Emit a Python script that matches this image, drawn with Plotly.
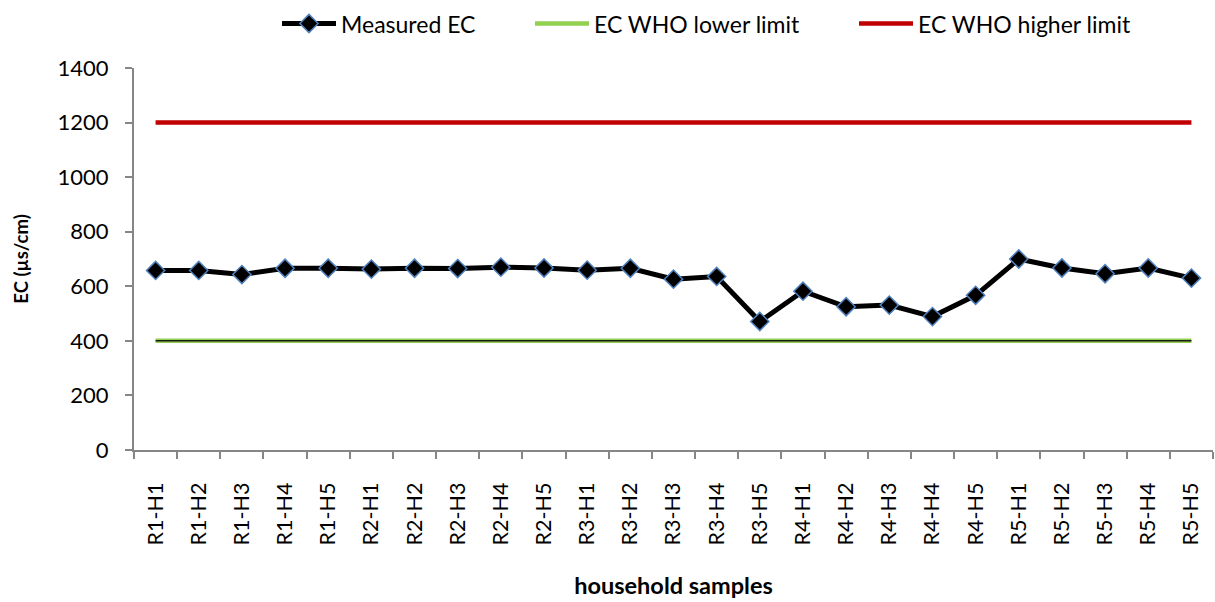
import plotly.graph_objects as go

# Household sample identifiers (route R, house H)
samples = [
    "R1-H1", "R1-H2", "R1-H3", "R1-H4", "R1-H5",
    "R2-H1", "R2-H2", "R2-H3", "R2-H4", "R2-H5",
    "R3-H1", "R3-H2", "R3-H3", "R3-H4", "R3-H5",
    "R4-H1", "R4-H2", "R4-H3", "R4-H4", "R4-H5",
    "R5-H1", "R5-H2", "R5-H3", "R5-H4", "R5-H5",
]

# Measured electrical conductivity (µs/cm)
measured_ec = [
    658, 658, 643, 666, 666,
    663, 666, 665, 670, 667,
    659, 666, 626, 636, 471,
    582, 525, 531, 489, 567,
    700, 667, 646, 667, 630,
]

# WHO guideline limits (µs/cm)
who_lower = [400] * len(samples)
who_higher = [1200] * len(samples)

y_ticks = [0, 200, 400, 600, 800, 1000, 1200, 1400]

FONT = "Lato"
AXIS_GREY = "#868686"

fig = go.Figure()

fig.add_trace(go.Scatter(
    x=samples, y=measured_ec, name="Measured EC", legend="legend",
    mode="lines+markers",
    line=dict(color="black", width=5),
    marker=dict(symbol="diamond", size=14, color="black",
                line=dict(color="#4F81BD", width=1.5)),
))
fig.add_trace(go.Scatter(
    x=samples, y=who_lower, name="EC WHO lower limit", legend="legend2",
    mode="lines", line=dict(color="#92D050", width=4.5),
))
fig.add_trace(go.Scatter(
    x=samples, y=who_lower, showlegend=False, hoverinfo="skip",
    mode="lines", line=dict(color="#1a1a1a", width=1.5),
))
fig.add_trace(go.Scatter(
    x=samples, y=who_higher, name="EC WHO higher limit", legend="legend3",
    mode="lines", line=dict(color="#C00000", width=4.5),
))

plot_l, plot_r, plot_t, plot_b = 134, 2, 63, 152
plot_w = 1215 - plot_l - plot_r
plot_h = 602 - plot_t - plot_b


def legend_at(px_left):
    return dict(
        orientation="h", x=(px_left - plot_l) / plot_w, xanchor="left",
        y=1 + (plot_t - 18) / plot_h, yanchor="middle",
        font=dict(size=23, family=FONT, color="black"),
        itemwidth=54, bgcolor="rgba(0,0,0,0)",
    )


fig.update_layout(
    width=1215, height=602,
    margin=dict(l=plot_l, r=plot_r, t=plot_t, b=plot_b),
    paper_bgcolor="white", plot_bgcolor="white",
    font=dict(family=FONT, color="black", size=18),
    legend=legend_at(277),
    legend2=legend_at(530),
    legend3=legend_at(854),
    showlegend=True,
)

fig.update_xaxes(
    type="category", tickson="boundaries", automargin=False,
    range=[-0.5, len(samples) - 0.5],
    showline=True, linecolor=AXIS_GREY, linewidth=2,
    ticks="outside", ticklen=7, tickcolor=AXIS_GREY, tickwidth=1.5,
    tickangle=-90, tickfont=dict(size=21.5, family=FONT),
    ticklabelstandoff=22,
    showgrid=False, zeroline=False,
    title=dict(text="<b>household samples</b>", font=dict(size=23.5, family=FONT), standoff=33),
)
fig.update_yaxes(
    range=[0, 1400], tickvals=y_ticks, automargin=False,
    showline=True, linecolor=AXIS_GREY, linewidth=2,
    ticks="outside", ticklen=7, tickcolor=AXIS_GREY, tickwidth=1.5,
    tickfont=dict(size=22, family=FONT),
    ticklabelstandoff=12,
    showgrid=False, zeroline=False,
    title=dict(text="<b>EC (µs/cm)</b>", font=dict(size=18.5, family=FONT), standoff=24),
)

fig.write_html("out.html")
